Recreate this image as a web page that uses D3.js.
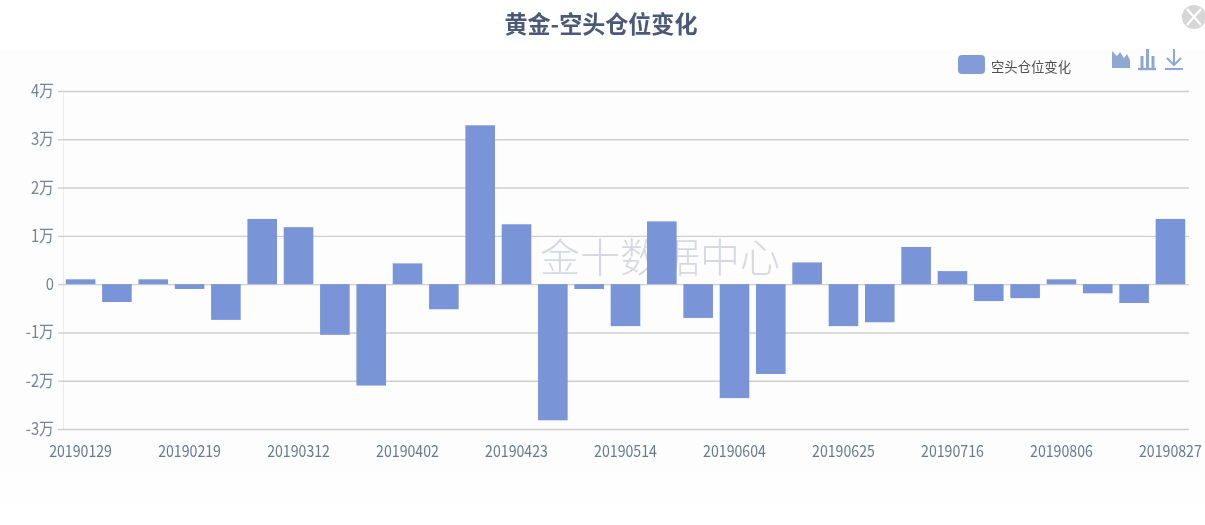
<!DOCTYPE html>
<html><head><meta charset="utf-8">
<style>html,body{margin:0;padding:0;background:#fff;overflow:hidden}svg{display:block}
text{font-family:"Noto Sans CJK SC","Noto Sans",sans-serif}</style>
<script src="https://cdn.jsdelivr.net/npm/d3@7/dist/d3.min.js"></script>
</head><body><svg id="c" width="1205" height="525"></svg>
<script>
const titleText = "黄金-空头仓位变化";
const seriesName = "空头仓位变化";
const watermark = "金十数据中心";
const dates = ["20190129","20190205","20190212","20190219","20190226","20190305","20190312","20190319","20190326","20190402","20190409","20190416","20190423","20190430","20190507","20190514","20190521","20190528","20190604","20190611","20190618","20190625","20190702","20190709","20190716","20190723","20190730","20190806","20190813","20190820","20190827"];
const values = [1000,-3700,1000,-1000,-7400,13500,11800,-10500,-21000,4300,-5200,32900,12400,-28200,-1000,-8700,13000,-7000,-23600,-18600,4500,-8700,-7900,7700,2700,-3500,-2900,1000,-1900,-3900,13500];
const yTicks = [-30000,-20000,-10000,0,10000,20000,30000,40000];

const svg = d3.select("#c");
const defs = svg.append("defs");
defs.append("filter").attr("id","soft").attr("x","-5%").attr("y","-5%").attr("width","110%").attr("height","110%")
  .append("feGaussianBlur").attr("stdDeviation",0.7);
const grad = defs.append("linearGradient").attr("id","bg").attr("x1",0).attr("y1",0).attr("x2",0).attr("y2",1);
grad.append("stop").attr("offset","0").attr("stop-color","#fdfdfe");
grad.append("stop").attr("offset","0.85").attr("stop-color","#fdfdfe");
grad.append("stop").attr("offset","1").attr("stop-color","#ffffff");
svg.append("rect").attr("x",0).attr("y",50).attr("width",1205).attr("height",475).attr("fill","url(#bg)");

const root = svg.append("g").attr("filter","url(#soft)");
const x = d3.scaleBand().domain(dates).range([62.5,1188.5]).paddingInner(0.185).paddingOuter(0.09);
const y = d3.scaleLinear().domain([-30000,40000]).range([429,91]);

// title
root.append("text").attr("x",601).attr("y",33).attr("text-anchor","middle")
  .attr("font-size",24).attr("font-weight",700).attr("fill","#4a5a78")
  .attr("textLength",193).attr("lengthAdjust","spacingAndGlyphs").text(titleText);

// close button
const cg = root.append("g").attr("transform","translate(1194,17)");
cg.append("circle").attr("r",12).attr("fill","#d6d6d6");
cg.append("path").attr("d","M-7,-8L7,8M7,-8L-7,8").attr("stroke","#fff").attr("stroke-width",2).attr("fill","none");

// y axis
const yAxis = d3.axisLeft(y).tickValues(yTicks).tickSize(5).tickPadding(4)
  .tickFormat(d => d === 0 ? "0" : (d/10000) + "万");
const gy = root.append("g").attr("transform","translate(63,0)").call(yAxis);
gy.select(".domain").attr("stroke","#ececec").attr("stroke-width",1);
gy.selectAll(".tick line").attr("stroke","#cfcfcf").attr("stroke-width",1.4);
gy.selectAll(".tick text").attr("fill","#748494").attr("font-size",17)
  .attr("transform","translate(-1.3,0) scale(0.87,1)");
gy.selectAll(".tick").append("line").attr("x1",0).attr("x2",1126)
  .attr("stroke","#cfcfcf").attr("stroke-width",1.4);

// watermark
root.append("text").attr("x",660).attr("y",272).attr("text-anchor","middle")
  .attr("font-size",40).attr("font-weight",300).attr("fill","#d6d9e4")
  .attr("textLength",240).attr("lengthAdjust","spacingAndGlyphs").text(watermark);

// bars
root.append("g").selectAll("rect").data(values).join("rect")
  .attr("x",(d,i)=>x(dates[i]))
  .attr("width",x.bandwidth())
  .attr("y",d=>Math.min(y(d),y(0)))
  .attr("height",d=>Math.abs(y(d)-y(0)))
  .attr("fill","#7a95d7");

// x axis
const xAxis = d3.axisBottom(x).tickValues(dates.filter((d,i)=>i%3===0)).tickSize(0).tickPadding(22);
const gx = root.append("g").attr("transform","translate(0,429)").call(xAxis);
gx.select(".domain").remove();
gx.selectAll(".tick text").attr("fill","#667b8d").attr("font-size",16)
  .attr("dy","0.35em");
gx.selectAll(".tick text").each(function(){
  const t = d3.select(this), yy = +t.attr("y");
  t.attr("transform",`translate(0,${yy}) scale(0.885,1)`).attr("y",0);
});

// legend
root.append("rect").attr("x",958).attr("y",55).attr("width",27).attr("height",19).attr("rx",4).attr("fill","#839cd8");
root.append("text").attr("x",991).attr("y",71.5).attr("font-size",14).attr("fill","#4f4f4f")
  .attr("textLength",80).attr("lengthAdjust","spacingAndGlyphs").text(seriesName);

// toolbox
const ic = "#8fa8d2";
root.append("path").attr("fill",ic).attr("d","M1112,68V51L1117,56L1120,52L1124,58L1127,54L1130,60V68Z");
root.append("path").attr("fill","none").attr("stroke",ic).attr("stroke-width",3)
  .attr("d","M1142,68V56M1147.5,68V49M1153,68V56");
root.append("path").attr("fill","none").attr("stroke",ic).attr("stroke-width",2.4).attr("d","M1138,69H1156");
root.append("path").attr("fill","none").attr("stroke",ic).attr("stroke-width",2)
  .attr("d","M1174,49V65M1167,58L1174,65L1181,58M1165,69H1183");
</script></body></html>
